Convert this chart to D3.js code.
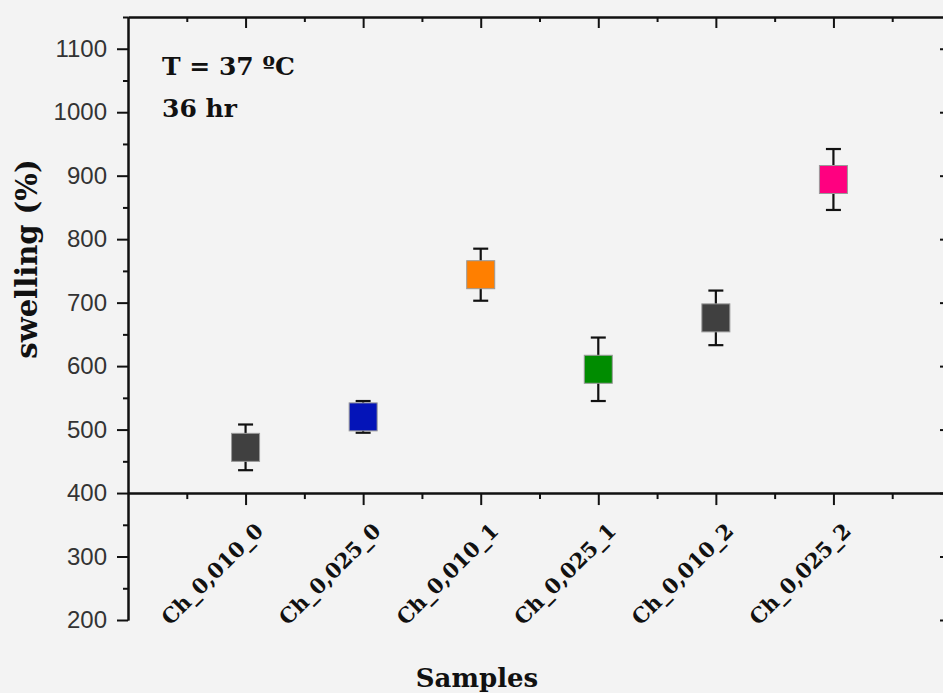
<!DOCTYPE html>
<html>
<head>
<meta charset="utf-8">
<script src="https://cdn.jsdelivr.net/npm/d3@7"></script>
<style>
  html, body { margin: 0; padding: 0; background: #f3f3f3; }
  svg { display: block; }
</style>
</head>
<body>
<div id="container"></div>
<script>
// chart data
var samples = ["Ch_0,010_0", "Ch_0,025_0", "Ch_0,010_1", "Ch_0,025_1", "Ch_0,010_2", "Ch_0,025_2"];
var swelling = [472, 520, 744, 595, 676, 894];
var swellingErr = [36, 25, 41, 50, 43, 48];
var markerColors = ["#404040", "#0414b8", "#ff7f00", "#008c00", "#404040", "#ff0080"];
var yMajorTicks = [200, 300, 400, 500, 600, 700, 800, 900, 1000, 1100];
var yMinorTicks = [250, 350, 450, 550, 650, 750, 850, 950, 1050, 1150];
var notes = ["T = 37 \u00BAC", "36 hr"];

var width = 943, height = 693;
// plot frame (right edge runs just past the window)
var plotLeft = 128, plotRight = 951, plotTop = 17, plotBottom = 620;

var svg = d3.select("#container").append("svg")
  .attr("width", width)
  .attr("height", height);

// paper-like background
svg.append("rect")
  .attr("width", width)
  .attr("height", height)
  .attr("fill", "#f3f3f3");

var x = d3.scaleLinear().domain([0, 7]).range([plotLeft, plotRight]);
var y = d3.scaleLinear().domain([200, 1150]).range([plotBottom, plotTop]);

var idx = d3.range(1, samples.length + 1);
var halfIdx = d3.range(0.5, samples.length + 1, 1);

function styleAxis(g) {
  g.select(".domain").attr("stroke", "#111").attr("stroke-width", 2);
  g.selectAll(".tick line").attr("stroke", "#111").attr("stroke-width", 2);
}

// left axis: major ticks with labels, minor ticks without
svg.append("g")
  .attr("transform", "translate(" + plotLeft + ",0)")
  .call(d3.axisLeft(y).tickValues(yMajorTicks).tickSize(11).tickSizeOuter(0).tickPadding(10).tickFormat(d3.format("d")))
  .call(styleAxis)
  .call(function(g) {
    g.selectAll("text")
      .attr("font-family", "Liberation Sans, Arial, sans-serif")
      .attr("font-size", 24)
      .attr("fill", "#333");
  });
svg.append("g")
  .attr("transform", "translate(" + plotLeft + ",0)")
  .call(d3.axisLeft(y).tickValues(yMinorTicks).tickSize(5).tickSizeOuter(0).tickFormat(""))
  .call(styleAxis);

// right axis, ticks pointing in
svg.append("g")
  .attr("transform", "translate(" + plotRight + ",0)")
  .call(d3.axisLeft(y).tickValues(yMajorTicks).tickSize(11).tickSizeOuter(0).tickFormat(""))
  .call(styleAxis);
svg.append("g")
  .attr("transform", "translate(" + plotRight + ",0)")
  .call(d3.axisLeft(y).tickValues(yMinorTicks).tickSize(5).tickSizeOuter(0).tickFormat(""))
  .call(styleAxis);

// top axis, ticks pointing in
svg.append("g")
  .attr("transform", "translate(0," + plotTop + ")")
  .call(d3.axisBottom(x).tickValues(idx).tickSize(11).tickSizeOuter(0).tickFormat(""))
  .call(styleAxis);
svg.append("g")
  .attr("transform", "translate(0," + plotTop + ")")
  .call(d3.axisBottom(x).tickValues(halfIdx).tickSize(5).tickSizeOuter(0).tickFormat(""))
  .call(styleAxis);

// bottom axis sits at y = 400
var xAxisY = y(400);
svg.append("g")
  .attr("transform", "translate(0," + xAxisY + ")")
  .call(d3.axisBottom(x).tickValues(idx).tickSize(12).tickSizeOuter(0).tickFormat(""))
  .call(styleAxis);
svg.append("g")
  .attr("transform", "translate(0," + xAxisY + ")")
  .call(d3.axisBottom(x).tickValues(halfIdx).tickSize(6).tickSizeOuter(0).tickFormat(""))
  .call(styleAxis);

// rotated sample labels
svg.append("g").selectAll("text")
  .data(samples)
  .enter().append("text")
  .attr("transform", function(d, i) {
    return "translate(" + (x(i + 1) + 19) + "," + (xAxisY + 39) + ") rotate(-45)";
  })
  .attr("text-anchor", "end")
  .attr("font-family", "DejaVu Serif, serif")
  .attr("font-weight", "bold")
  .attr("font-size", 21)
  .attr("fill", "#111")
  .text(function(d) { return d; });

// error bars first, markers on top
var cap = 7.5;
var bars = svg.append("g").selectAll("g")
  .data(swelling)
  .enter().append("g")
  .attr("stroke", "#111")
  .attr("stroke-width", 2.2);
bars.append("line")
  .attr("x1", function(d, i) { return x(i + 1); })
  .attr("x2", function(d, i) { return x(i + 1); })
  .attr("y1", function(d, i) { return y(d + swellingErr[i]); })
  .attr("y2", function(d, i) { return y(d - swellingErr[i]); });
bars.append("line")
  .attr("x1", function(d, i) { return x(i + 1) - cap; })
  .attr("x2", function(d, i) { return x(i + 1) + cap; })
  .attr("y1", function(d, i) { return y(d + swellingErr[i]); })
  .attr("y2", function(d, i) { return y(d + swellingErr[i]); });
bars.append("line")
  .attr("x1", function(d, i) { return x(i + 1) - cap; })
  .attr("x2", function(d, i) { return x(i + 1) + cap; })
  .attr("y1", function(d, i) { return y(d - swellingErr[i]); })
  .attr("y2", function(d, i) { return y(d - swellingErr[i]); });

var size = 28;
svg.append("g").selectAll("rect")
  .data(swelling)
  .enter().append("rect")
  .attr("x", function(d, i) { return x(i + 1) - size / 2; })
  .attr("y", function(d) { return y(d) - size / 2; })
  .attr("width", size)
  .attr("height", size)
  .attr("fill", function(d, i) { return markerColors[i]; })
  .attr("stroke", "#999")
  .attr("stroke-width", 1);

// annotation text
svg.append("g").selectAll("text")
  .data(notes)
  .enter().append("text")
  .attr("x", 162)
  .attr("y", function(d, i) { return 75 + i * 42; })
  .attr("font-family", "DejaVu Serif, serif")
  .attr("font-weight", "bold")
  .attr("font-size", 25)
  .attr("fill", "#111")
  .text(function(d) { return d; });

// axis titles
svg.append("text")
  .attr("x", 477)
  .attr("y", 687)
  .attr("text-anchor", "middle")
  .attr("font-family", "DejaVu Serif, serif")
  .attr("font-weight", "bold")
  .attr("font-size", 26)
  .attr("fill", "#111")
  .text("Samples");

svg.append("text")
  .attr("transform", "translate(37,259) rotate(-90)")
  .attr("text-anchor", "middle")
  .attr("font-family", "DejaVu Serif, serif")
  .attr("font-weight", "bold")
  .attr("font-size", 29)
  .attr("fill", "#111")
  .text("swelling (%)");
</script>
</body>
</html>
